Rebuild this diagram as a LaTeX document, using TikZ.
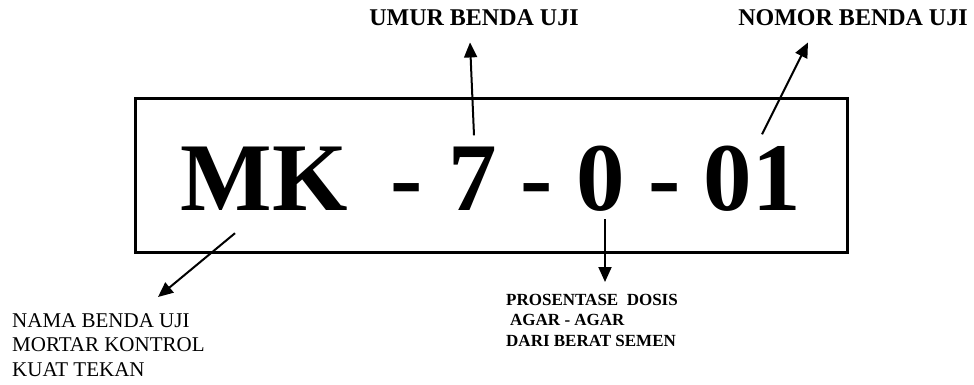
\documentclass[tikz,border=0pt]{standalone}
\usepackage{fontspec}
\setmainfont{Liberation Serif}
\usetikzlibrary{arrows.meta}

\begin{document}
\begin{tikzpicture}[x=1pt, y=-1pt,
                    plate/.style={draw=black, line width=3pt, minimum width=712pt,
                                  minimum height=153pt, inner sep=0pt},
                    bigtxt/.style={font=\fontsize{97}{97}\selectfont\bfseries,
                                   inner sep=8pt, anchor=base},
                    toplbl/.style={font=\fontsize{24}{28}\selectfont\bfseries,
                                   inner sep=2pt, anchor=base},
                    lowlbl/.style={align=left, inner sep=0pt, anchor=north west},
                    arr/.style={-{Triangle[length=15pt,width=13pt]}, line width=2pt}
                ]
    \useasboundingbox (0,0) rectangle (974,385);

    \node[plate] (box) at (491,175.5) {};

    % code on the plate
    \foreach \t/\x/\n in {MK/264/mk, -/407/d1, 7/473/n7, -/537/d2, 0/601/n0, -/665/d3, 01/752/n01}{
        \node[bigtxt] (\n) at (\x,210) {\t};
    }

    \node[toplbl] (umur) at (474,26) {UMUR BENDA UJI};
    \node[toplbl] (nomor) at (853,26) {NOMOR BENDA UJI};
    \node[lowlbl, font=\fontsize{21}{24.5}\selectfont] (nama) at (12,313)
        {NAMA BENDA UJI\\MORTAR KONTROL\\KUAT TEKAN};
    \node[lowlbl, font=\fontsize{17}{20.5}\selectfont\bfseries] (dosis) at (506,294)
        {PROSENTASE \ DOSIS\\\hspace{4pt}AGAR - AGAR\\DARI BERAT SEMEN};

    \draw[arr] ([xshift=-29pt,yshift=-15pt]mk.south) -- ([xshift=146pt,yshift=16pt]nama.north west);
    \draw[arr] ([xshift=1pt,yshift=3pt]n7.north) -- ([xshift=-4pt,yshift=-14pt]umur.south);
    \draw[arr] ([xshift=4pt]n0.south) -- ([xshift=99pt,yshift=12pt]dosis.north west);
    \draw[arr] ([xshift=10pt,yshift=3pt]n01.north) -- ([xshift=-45pt,yshift=-14pt]nomor.south);
\end{tikzpicture}
\end{document}
